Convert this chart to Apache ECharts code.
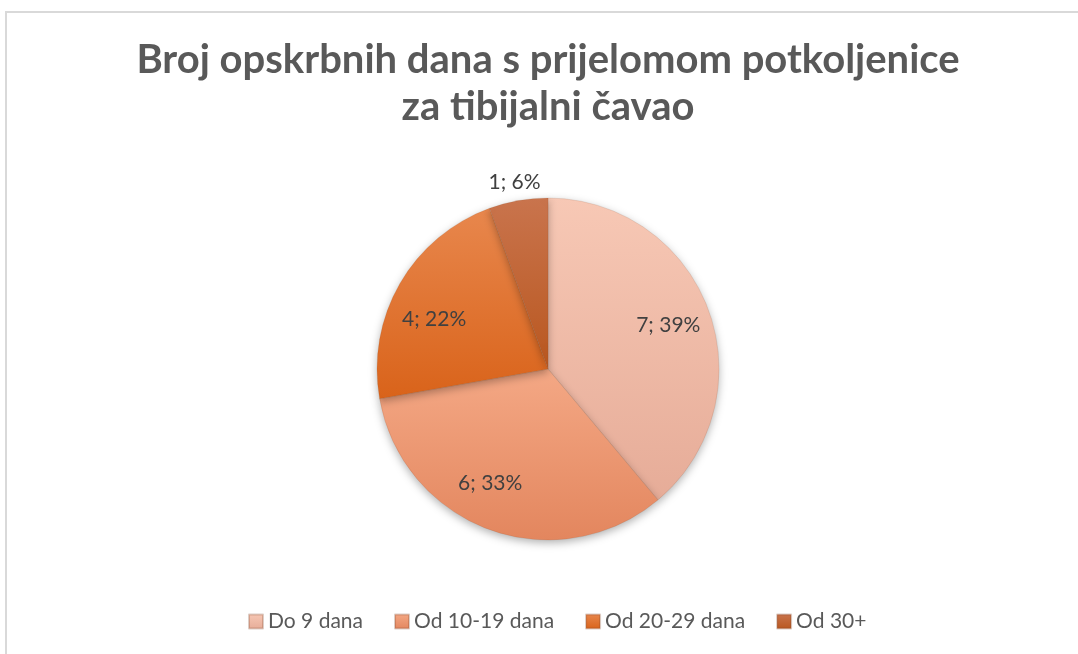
<!DOCTYPE html>
<html>
<head>
<meta charset="utf-8">
<script src="https://cdn.jsdelivr.net/npm/echarts@6/dist/echarts.min.js"></script>
<style>
html,body{margin:0;padding:0;background:#fff;}
#chart{width:1078px;height:654px;}
</style>
</head>
<body>
<div id="chart"></div>
<script>
const titleText = 'Broj opskrbnih dana s prijelomom potkoljenice\nza tibijalni čavao';
const categories = ['Do 9 dana', 'Od 10-19 dana', 'Od 20-29 dana', 'Od 30+'];
const values = [7, 6, 4, 1];
const gradientStops = [
  ['#F7C8B5', '#E6AC98'],
  ['#F4A885', '#E3865E'],
  ['#E8874D', '#D9631A'],
  ['#C9744D', '#B9571F']
];
const outsideLabel = [false, false, false, true];

const FONT = 'Lato';
// small label nudges (styling only), mimicking Excel's best-fit placement
const labelNudge = [[0, 0], [-14, -6], [-3, 14], [0, 3]];
function grad(i) {
  return {type: 'linear', x: 0, y: 0, x2: 0, y2: 1,
    colorStops: [{offset: 0, color: gradientStops[i][0]}, {offset: 1, color: gradientStops[i][1]}]};
}
const mainData = categories.map((c, i) => ({name: c, value: values[i], itemStyle: {color: grad(i)}}));
function labelData(showOutside) {
  return categories.map((c, i) => ({
    name: c, value: values[i],
    label: {show: outsideLabel[i] === showOutside, offset: labelNudge[i]}
  }));
}
const labelStyle = {
  position: 'inside', formatter: '{c}; {d}%', color: '#404040',
  fontFamily: FONT, fontSize: 21
};
const hiddenCommon = {
  type: 'pie', center: [548, 369], startAngle: 90, clockwise: true,
  percentPrecision: 0, silent: true, legendHoverLink: false,
  itemStyle: {color: 'rgba(0,0,0,0)'}, emphasis: {disabled: true},
  labelLine: {show: false}, label: labelStyle, z: 5
};

const chart = echarts.init(document.getElementById('chart'));
chart.setOption({
  backgroundColor: '#fff',
  animation: false,
  title: {
    text: titleText, left: 543, textAlign: 'center', top: 32,
    textStyle: {fontFamily: FONT, fontWeight: 'bold', fontSize: 40, color: '#595959', lineHeight: 47}
  },
  legend: {
    data: categories, left: 243, top: 606,
    itemWidth: 14, itemHeight: 14, itemGap: 31, icon: 'rect',
    textStyle: {fontFamily: FONT, fontSize: 21, color: '#595959'}
  },
  graphic: [
    {type: 'line', shape: {x1: 6, y1: 12, x2: 1078, y2: 12}, style: {stroke: '#D9D9D9', lineWidth: 2}, silent: true},
    {type: 'line', shape: {x1: 6, y1: 11, x2: 6, y2: 654}, style: {stroke: '#D9D9D9', lineWidth: 2}, silent: true}
  ],
  series: [
    {
      type: 'pie', center: [548, 369], radius: 171, startAngle: 90, clockwise: true,
      percentPrecision: 0, data: mainData, label: {show: false}, labelLine: {show: false},
      itemStyle: {borderWidth: 0.5, borderColor: 'rgba(120,60,30,0.25)', shadowBlur: 8, shadowColor: 'rgba(0,0,0,0.3)', shadowOffsetY: 3},
      emphasis: {disabled: true}
    },
    Object.assign({}, hiddenCommon, {radius: 250, data: labelData(false)}),
    Object.assign({}, hiddenCommon, {radius: 380, data: labelData(true)})
  ]
});
</script>
</body>
</html>
